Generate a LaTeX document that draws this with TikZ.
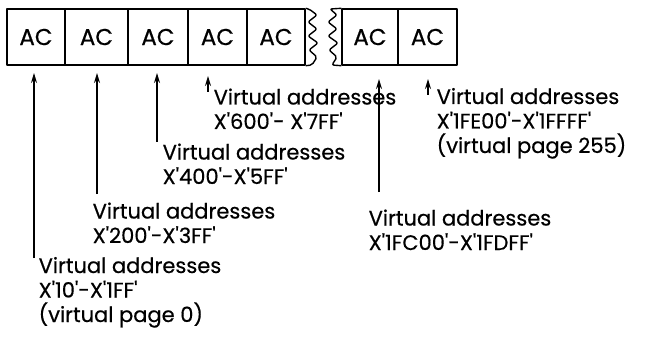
\documentclass[tikz,border=0pt]{standalone}
\usepackage{fontspec}
\setmainfont{Poppins}[Ligatures=TeXOff,FakeBold=0.5]
\usetikzlibrary{arrows.meta}
\begin{document}
\begin{tikzpicture}[x=1pt,y=-1pt,>={Stealth[length=10pt,width=6pt]},line width=1.4pt,line join=round,
	cell/.style={draw,minimum height=56pt,inner sep=0pt,font=\fontsize{23}{23}\selectfont},
	vlabel/.style={anchor=base west,align=left,inner sep=0pt,font=\fontsize{21}{24.5}\selectfont}]
	\useasboundingbox (0,0) rectangle (647,339);
	%Cac trang
	\foreach \i/\xa/\xb in {1/7/65,2/65/128,3/128/188,4/188/247,5/247/305,7/342/398,8/398/457}
		\node[cell,minimum width=\xb pt-\xa pt] (b\i) at ({(\xa+\xb)/2},37) {AC};
	%Cho ngat
	\draw[rounded corners=2pt] (b5.north east)--(309,9)--(317,15)--(308,22)--(317,29)--(308,36)--(318,43)--(309,50)--(317,57)--(312,65)--(b5.south east);
	\draw[rounded corners=2pt] (b7.north west)--(330,9)--(337,15)--(328,22)--(337,29)--(328,36)--(338,43)--(329,50)--(337,57)--(332,65)--(b7.south west);
	%Nhan (goc = dong cuoi)
	\node[vlabel] (l1) at (38,322) {Virtual addresses\\X'10'-X'1FF'\\(virtual page 0)};
	\node[vlabel] (l2) at (92,243) {Virtual addresses\\X'200'-X'3FF'};
	\node[vlabel] (l3) at (162,184) {Virtual addresses\\X'400'-X'5FF'};
	\node[vlabel] (l4) at (213,129) {Virtual addresses\\X'600'- X'7FF'};
	\node[vlabel] (l5) at (368,250) {Virtual addresses\\X'1FC00'-X'1FDFF'};
	\node[vlabel] (l6) at (436,153) {Virtual addresses\\X'1FE00'-X'1FFFF'\\(virtual page 255)};
	%Mui ten
	\foreach \i/\x/\ya/\yb in {1/34/73/258,2/97/73/194,3/157/73/142,4/208/76/92,5/379/79/192,6/428/79/95}{
		\coordinate (t\i) at (\x,\ya);
		\coordinate (e\i) at (\x,\yb);
		\draw[->] (e\i)--(t\i);
	}
\end{tikzpicture}
\end{document}
